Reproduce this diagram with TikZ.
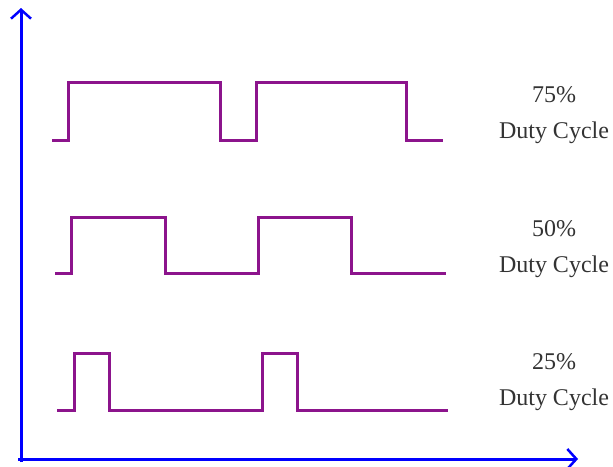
\documentclass[tikz,border=0pt]{standalone}
\usepackage{fontspec}
\setmainfont{Liberation Serif}
\usetikzlibrary{arrows.meta}
\definecolor{wave}{RGB}{140,20,140}
\definecolor{axis}{RGB}{0,0,255}
\begin{document}
\begin{tikzpicture}[x=1pt,y=-1pt,
  axisline/.style={draw=axis,line width=3pt,-{Straight Barb[length=9pt,width=20pt,line width=2.5pt]}},
  waveline/.style={draw=wave,line width=3pt,line join=miter},
  lbl/.style={align=center,font=\fontsize{24}{36}\selectfont,text=black!80,inner sep=0pt}]
\useasboundingbox (0,0) rectangle (613,466);
\fill[white] (0,0) rectangle (613,466);
\coordinate (o) at (21,459);
\coordinate (ytip) at (21,8);
\coordinate (xtip) at (578,459);
\draw[axisline] (o |- 0,462) -- (ytip);
\draw[axisline] (18,459) -- (xtip);
% 75%
\draw[waveline] (52,140) -- (68,140) -- (68,82) -- (220,82) -- (220,140) -- (256,140) -- (256,82) -- (406,82) -- (406,140) -- (443,140);
% 50%
\draw[waveline] (55,273) -- (71,273) -- (71,217) -- (165,217) -- (165,273) -- (258,273) -- (258,217) -- (351,217) -- (351,273) -- (446,273);
% 25%
\draw[waveline] (57,410) -- (74,410) -- (74,353) -- (109,353) -- (109,410) -- (262,410) -- (262,353) -- (297,353) -- (297,410) -- (448,410);
\node[lbl] (l75) at (554,115) {75\%\\Duty Cycle};
\node[lbl] (l50) at (554,249) {50\%\\Duty Cycle};
\node[lbl] (l25) at (554,382) {25\%\\Duty Cycle};
\end{tikzpicture}
\end{document}
